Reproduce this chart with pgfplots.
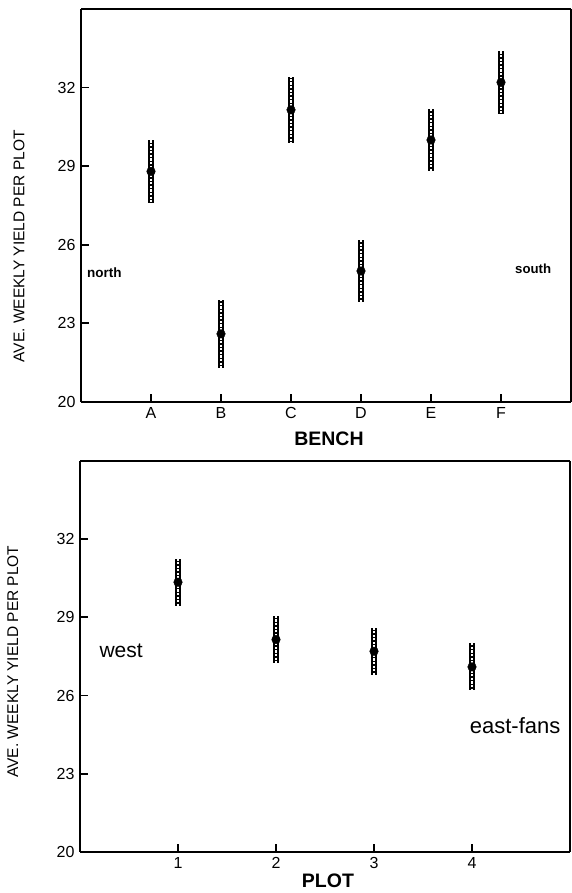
\documentclass[border=0pt]{standalone}
\usepackage{pgfplots}
\pgfplotsset{compat=1.18}
\usepackage{fontspec}
\setmainfont{Liberation Sans}

\pgfplotsset{
  yieldax/.style={
    scale only axis,
    anchor=south west,
    ymin=20, ymax=35,
    ytick={20,23,26,29,32},
    axis x line*=bottom, axis y line*=left,
    tick align=inside,
    major tick length=8pt,
    every tick/.style={black, line width=1.8pt},
    axis line style={line width=2.8pt, -},
    /pgf/number format/assume math mode=true,
    yticklabel style={font=\fontsize{16}{18}\selectfont, xshift=-2pt},
    xticklabel style={font=\fontsize{16}{18}\selectfont, yshift=-2pt},
    ylabel={AVE.\ WEEKLY YIELD PER PLOT},
    ylabel style={font=\fontsize{15.5}{17}\selectfont, rotate=0, anchor=center},
    xlabel style={font=\fontsize{19.5}{21}\selectfont\bfseries, anchor=center},
    clip=false,
  },
  outerbar/.style={only marks, mark=none,
    error bars/.cd, y dir=both, y explicit,
    error mark=none, error bar style={line width=5.5pt, black}},
  innerbar/.style={only marks, mark=none,
    error bars/.cd, y dir=both, y explicit,
    error mark=none, error bar style={line width=2.2pt, white, dash pattern=on 2.2pt off 1.4pt}},
  centremark/.style={only marks, mark=*, mark size=4.3pt, black},
}

\begin{document}
\begin{tikzpicture}
\path[use as bounding box] (0,0) rectangle (572pt,893pt);

% top panel: benches
\begin{axis}[yieldax,
  at={(81pt,491pt)}, width=490pt, height=393pt,
  xmin=0, xmax=7,
  xtick={1,2,3,4,5,6}, xticklabels={A,B,C,D,E,F},
  xlabel={BENCH},
  xlabel style={at={(axis description cs:0.506,-0.093)}},
  ylabel style={at={(axis description cs:-0.1265,0.396)}},
]
\addplot[outerbar] coordinates {
  (1,28.8) +- (0,1.2) (2,22.6) +- (0,1.3) (3,31.15) +- (0,1.25)
  (4,25.0) +- (0,1.2) (5,30.0) +- (0,1.2) (6,32.2) +- (0,1.2)
};
\addplot[innerbar] coordinates {
  (1,28.8) +- (0,1.2) (2,22.6) +- (0,1.3) (3,31.15) +- (0,1.25)
  (4,25.0) +- (0,1.2) (5,30.0) +- (0,1.2) (6,32.2) +- (0,1.2)
};
\addplot[centremark] coordinates {
  (1,28.8) (2,22.6) (3,31.15) (4,25.0) (5,30.0) (6,32.2)
};
\draw[line width=2.4pt] (rel axis cs:0,1) -- (rel axis cs:1,1);
\draw[line width=1.5pt] (rel axis cs:1,1) -- (rel axis cs:1,0);
\node[font=\fontsize{13.5}{15}\selectfont\bfseries] at (axis cs:0.335,24.92) {north};
\node[font=\fontsize{13.2}{15}\selectfont\bfseries] at (axis cs:6.46,25.1) {south};
\end{axis}

% bottom panel: plots
\begin{axis}[yieldax,
  at={(80pt,41pt)}, width=490pt, height=391pt,
  xmin=0, xmax=5,
  xtick={1,2,3,4},
  xlabel={PLOT},
  xlabel style={at={(axis description cs:0.506,-0.073)}},
  ylabel style={at={(axis description cs:-0.137,0.487)}},
]
\addplot[outerbar] coordinates {
  (1,30.35) +- (0,0.9) (2,28.15) +- (0,0.9) (3,27.7) +- (0,0.9) (4,27.1) +- (0,0.9)
};
\addplot[innerbar] coordinates {
  (1,30.35) +- (0,0.9) (2,28.15) +- (0,0.9) (3,27.7) +- (0,0.9) (4,27.1) +- (0,0.9)
};
\addplot[centremark] coordinates {
  (1,30.35) (2,28.15) (3,27.7) (4,27.1)
};
\draw[line width=2.4pt] (rel axis cs:0,1) -- (rel axis cs:1,1);
\draw[line width=1.5pt] (rel axis cs:1,1) -- (rel axis cs:1,0);
\node[font=\fontsize{21}{23}\selectfont] at (axis cs:0.42,27.72) {west};
\node[font=\fontsize{22}{24}\selectfont] at (axis cs:4.44,24.85) {east-fans};
\end{axis}
\end{tikzpicture}
\end{document}
